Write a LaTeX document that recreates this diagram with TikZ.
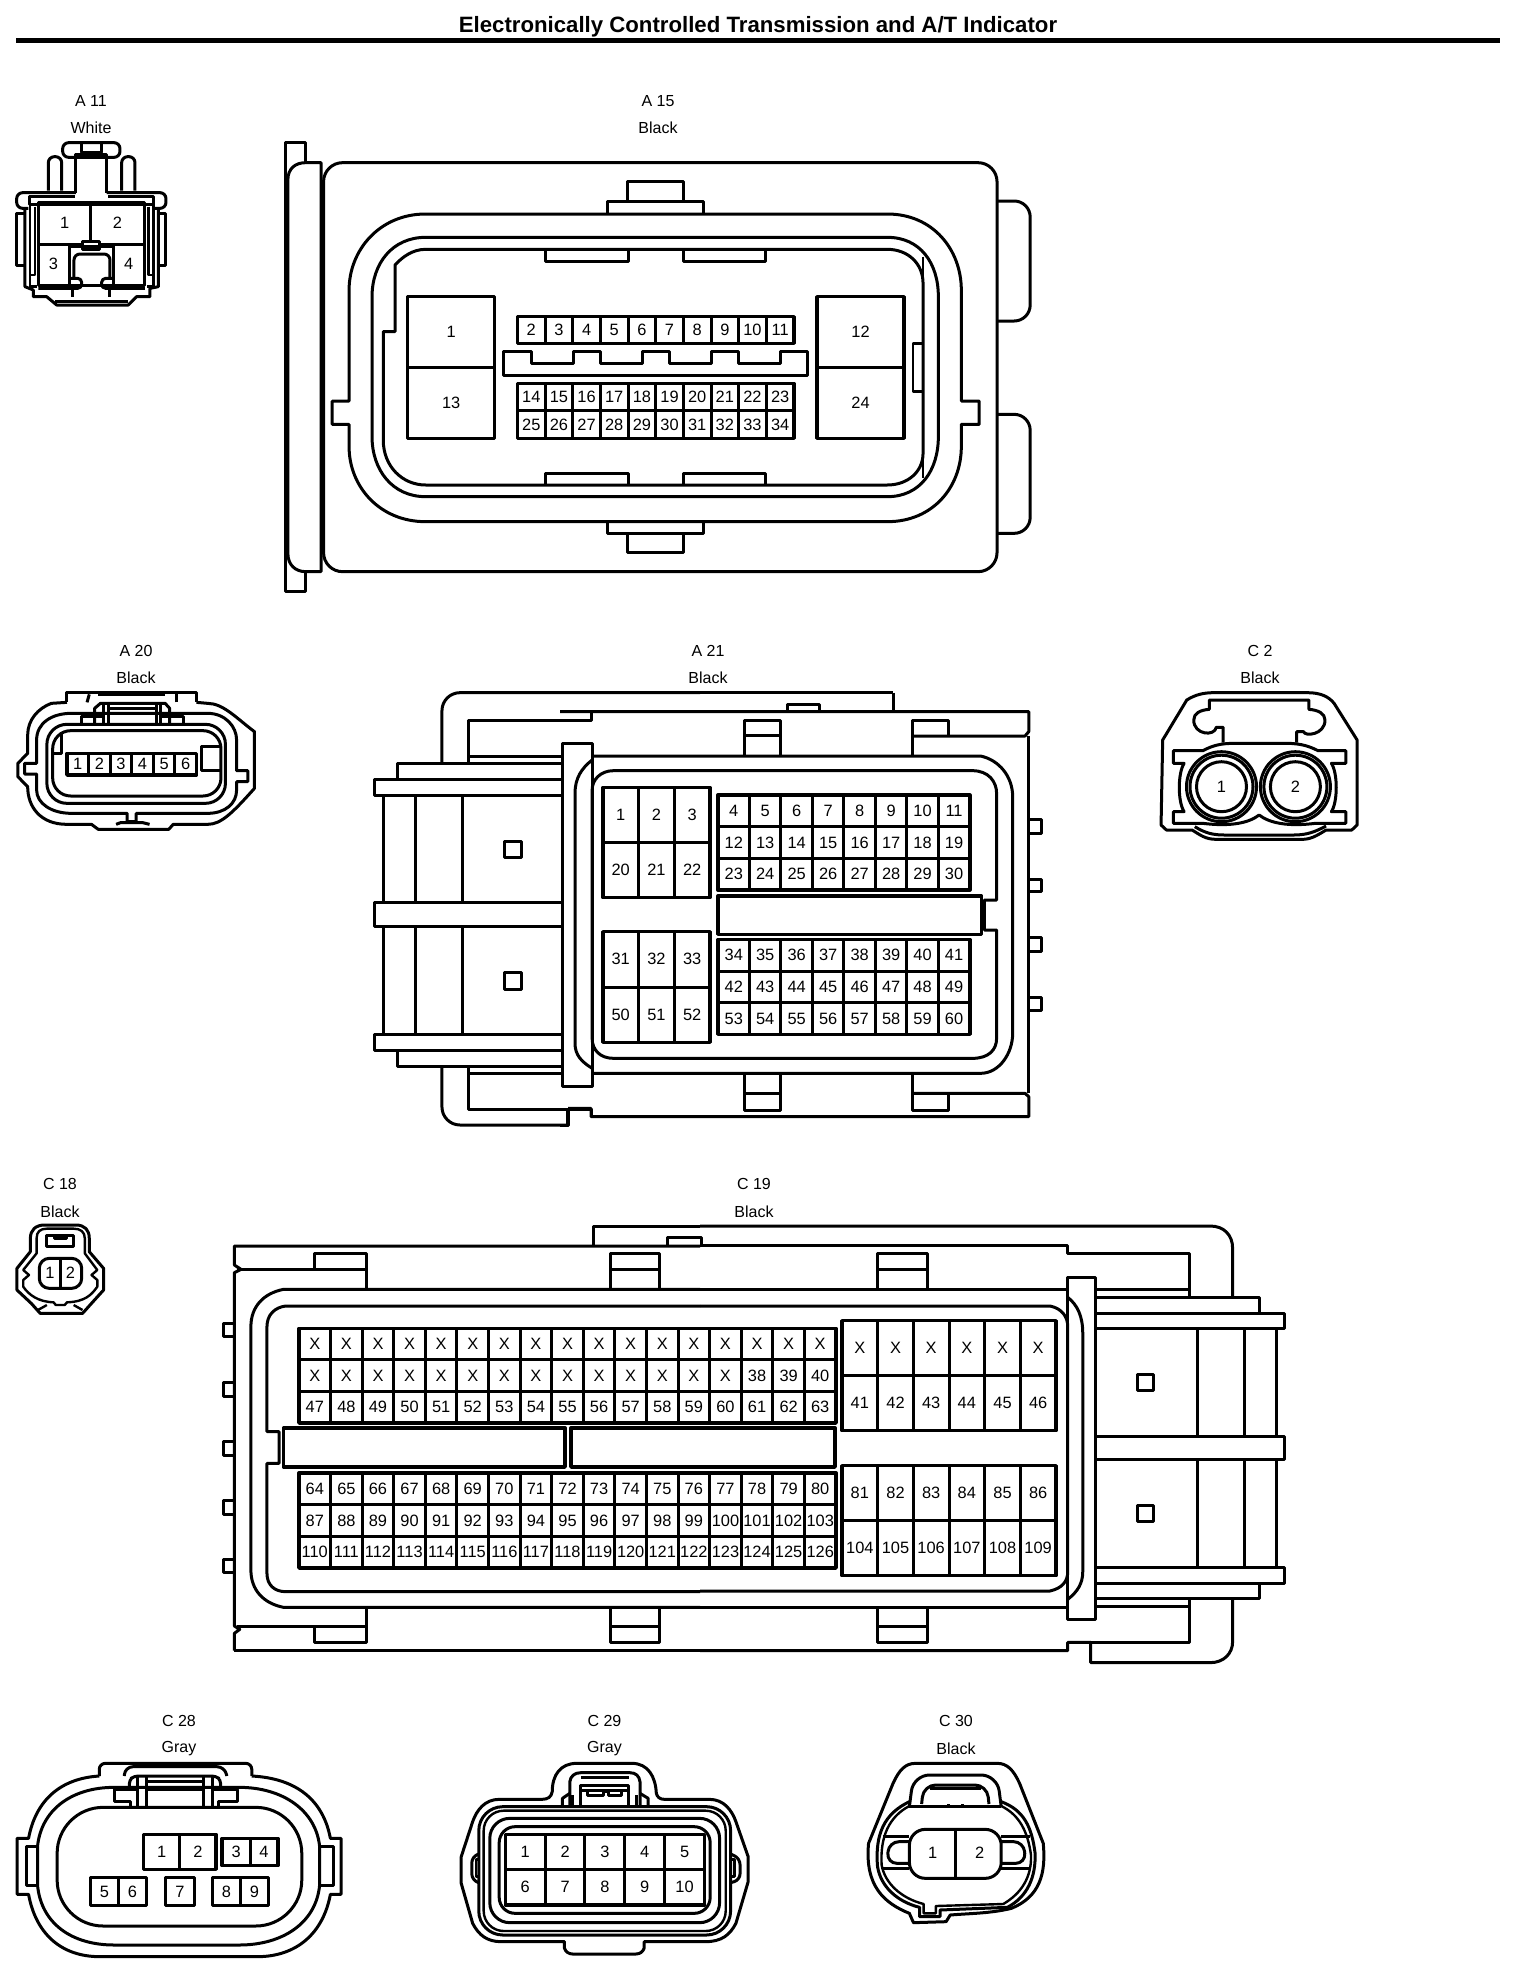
\documentclass[tikz,border=0pt]{standalone}
\usepackage{fontspec}
\setmainfont{Liberation Sans}
\newcounter{pg}
\tikzset{
 hv/.style={line width=1.7pt},
 tn/.style={line width=1.2pt},
 pinlab/.style={inner sep=0pt,font=\fontsize{8.2}{9}\selectfont},
 caplab/.style={inner sep=0pt,font=\fontsize{8}{9}\selectfont},
 zA/.style={xscale=0.33333,yscale=0.33333},
 zB/.style={shift={(270,120)},xscale=0.5102,yscale=0.33333},
 zC/.style={shift={(0,640)},xscale=0.44643,yscale=0.33333},
 zD/.style={shift={(560,680)},xscale=0.53571,yscale=0.33333},
 zE/.style={shift={(0,1170)},xscale=0.44643,yscale=0.33333},
 zF/.style={shift={(700,1210)},xscale=0.39541,yscale=0.33333},
 zG/.style={shift={(0,1700)},xscale=0.35714,yscale=0.33333},
 zH/.style={shift={(440,1700)},xscale=0.40816,yscale=0.33333},
}
% x1,y1,x2,y2,cols,rows,labels
\newcommand{\pingrid}[7]{%
 \stepcounter{pg}%
 \draw[hv] (#1,#2) rectangle (#3,#4);
 \foreach \pgi in {1,...,#5}{\pgfmathsetmacro\pgx{#1+\pgi*(#3-#1)/#5}\ifnum\pgi<#5 \draw (\pgx,#2) -- (\pgx,#4);\fi}
 \foreach \pgi in {1,...,#6}{\pgfmathsetmacro\pgy{#2+\pgi*(#4-#2)/#6}\ifnum\pgi<#6 \draw (#1,\pgy) -- (#3,\pgy);\fi}
 \foreach \lab [count=\k from 0] in {#7}{%
  \pgfmathtruncatemacro\pgc{mod(\k,#5)}%
  \pgfmathtruncatemacro\pgr{int(\k/#5)}%
  \pgfmathsetmacro\pgx{#1+(\pgc+.5)*(#3-#1)/#5}%
  \pgfmathsetmacro\pgy{#2+(\pgr+.5)*(#4-#2)/#6}%
  \node[pinlab] (g\arabic{pg}n\k) at (\pgx,\pgy) {\lab};}
}
\begin{document}
\begin{tikzpicture}[x=0.5pt,y=-0.5pt,line width=1.5pt,line join=round]
\useasboundingbox (0,0) rectangle (1536,1982);
\fill[white] (0,0) rectangle (1536,1982);
% header
\node[inner sep=0pt,font=\fontsize{11.1}{13}\bfseries\selectfont] (title) at (758,27) {Electronically Controlled Transmission and A/T Indicator};
\draw[line width=2.5pt] (16,40.5) -- (1500,40.5);
% captions
\node[caplab] (ca11) at (91,101) {A 11}; \node[caplab] (cb11) at (91,128) {White};
\node[caplab] (ca15) at (658,101) {A 15}; \node[caplab] (cb15) at (658,128) {Black};
\node[caplab] (ca20) at (136,651) {A 20}; \node[caplab] (cb20) at (136,678) {Black};
\node[caplab] (ca21) at (708,651) {A 21}; \node[caplab] (cb21) at (708,678) {Black};
\node[caplab] (cac2) at (1260,651) {C 2}; \node[caplab] (cbc2) at (1260,678) {Black};
\node[caplab] (ca18) at (60,1184) {C 18}; \node[caplab] (cb18) at (60,1212) {Black};
\node[caplab] (ca19) at (754,1184) {C 19}; \node[caplab] (cb19) at (754,1212) {Black};
\node[caplab] (ca28) at (179,1721) {C 28}; \node[caplab] (cb28) at (179,1749) {Gray};
\node[caplab] (ca29) at (604.5,1721) {C 29}; \node[caplab] (cb29) at (604.5,1749) {Gray};
\node[caplab] (ca30) at (956,1721) {C 30}; \node[caplab] (cb30) at (956,1749) {Black};

% ---------- A11
\begin{scope}[zA]
\draw[rounded corners=3pt] (188,428) rectangle (360,472);
\draw (245,428) rectangle (305,458);
\draw (228,578) -- (228,462) -- (320,462) -- (320,578);
\draw[rounded corners=3pt] (145,572) -- (145,470) -- (185,470) -- (185,572);
\draw[rounded corners=3pt] (365,572) -- (365,470) -- (405,470) -- (405,572);
\draw[rounded corners=3pt] (228,578) -- (50,578) -- (50,625) -- (85,625);
\draw[rounded corners=3pt] (320,578) -- (498,578) -- (498,625) -- (465,625);
\draw (225,590) -- (88,590) -- (88,612) -- (462,612) -- (462,590) -- (325,590);
\draw (75,640) -- (50,640) -- (50,795) -- (75,795);
\draw (475,640) -- (498,640) -- (498,795) -- (475,795);
\draw (75,625) -- (75,860) -- (100,870) -- (100,890) -- (140,890) -- (170,915) -- (385,915) -- (410,890) -- (450,890) -- (450,865) -- (475,860) -- (475,625);
\draw[tn] (90,612) -- (90,860) -- (110,860);
\draw[tn] (460,612) -- (460,860) -- (440,860);
\draw[tn] (105,620) -- (105,825) -- (90,825);
\draw[tn] (445,620) -- (445,825) -- (460,825);
\draw (115,608) rectangle (435,855);
\draw (272,608) -- (272,730);
\draw (115,733) -- (250,733); \draw (300,733) -- (435,733);
\draw (248,725) rectangle (300,748);
\draw (210,740) -- (340,740);
\draw (210,733) -- (210,855); \draw (340,733) -- (340,855);
\draw[rounded corners=3pt] (222,835) -- (222,762) -- (330,762) -- (330,835);
\draw[rounded corners=2pt] (210,835) -- (245,835) -- (245,865) -- (115,865);
\draw[rounded corners=2pt] (340,835) -- (305,835) -- (305,865) -- (435,865);
\draw (218,865) -- (218,890); \draw (328,865) -- (328,890);
\draw (165,905) -- (385,905);
\node[pinlab] (a11n1) at (194,668) {1};
\node[pinlab] (a11n2) at (352,668) {2};
\node[pinlab] (a11n3) at (160,793) {3};
\node[pinlab] (a11n4) at (386,793) {4};
\end{scope}

% ---------- A15
\begin{scope}[zB]
\draw (70,128) -- (70,68) -- (30,68) -- (30,1415) -- (70,1415) -- (70,1355);
\draw (100,128) -- (70,128) .. controls (50,128) and (35,145) .. (35,180) -- (35,1300) .. controls (35,1335) and (50,1355) .. (70,1355) -- (100,1355) -- cycle;
\draw[rounded corners=9.5pt] (105,128) rectangle (1425,1355);
\draw[rounded corners=8pt] (1425,243) -- (1490,243) -- (1490,603) -- (1425,603);
\draw[rounded corners=8pt] (1425,883) -- (1490,883) -- (1490,1240) -- (1425,1240);
\draw (700,243) -- (700,185) -- (810,185) -- (810,243);
\draw (662,282) -- (662,243) -- (850,243) -- (850,282);
\draw (662,1205) -- (662,1240) -- (850,1240) -- (850,1205);
\draw (700,1240) -- (700,1298) -- (810,1298) -- (810,1240);
\draw (305,282) -- (1210,282) .. controls (1300,282) and (1355,390) .. (1355,510) -- (1355,843) -- (1390,843) -- (1390,913) -- (1355,913) -- (1355,980) .. controls (1355,1100) and (1300,1205) .. (1210,1205) -- (305,1205) .. controls (215,1205) and (155,1100) .. (155,980) -- (155,913) -- (122,913) -- (122,843) -- (155,843) -- (155,510) .. controls (155,390) and (215,282) .. (305,282) -- cycle;
\draw (305,352) -- (1210,352) .. controls (1275,352) and (1310,430) .. (1310,530) -- (1310,950) .. controls (1310,1050) and (1275,1130) .. (1210,1130) -- (305,1130) .. controls (240,1130) and (200,1050) .. (200,950) -- (200,530) .. controls (200,430) and (240,352) .. (305,352) -- cycle;
\draw (305,388) -- (1210,388) .. controls (1250,388) and (1280,430) .. (1280,490) -- (1280,1000) .. controls (1280,1055) and (1250,1095) .. (1210,1095) -- (305,1095) .. controls (260,1095) and (222,1040) .. (222,960) -- (222,635) -- (245,635) -- (245,435) .. controls (260,410) and (280,388) .. (305,388) -- cycle;
\draw[tn] (1280,410) -- (1280,1075);
\draw[tn] (1260,670) rectangle (1280,815);
\draw (540,388) -- (540,425) -- (703,425) -- (703,388);
\draw (810,388) -- (810,425) -- (972,425) -- (972,388);
\draw (540,1095) -- (540,1060) -- (703,1060) -- (703,1095);
\draw (810,1095) -- (810,1060) -- (972,1060) -- (972,1095);
\pingrid{270}{530}{440}{955}{1}{2}{1,13}
\pingrid{1072}{530}{1243}{955}{1}{2}{12,24}
\pingrid{485}{590}{1027}{670}{10}{1}{2,3,4,5,6,7,8,9,10,11}
\pingrid{485}{790}{1027}{955}{10}{2}{14,15,16,17,18,19,20,21,22,23,25,26,27,28,29,30,31,32,33,34}
\draw (458,693) -- (513,693) -- (513,730) -- (595,730) -- (595,693) -- (648,693) -- (648,730) -- (730,730) -- (730,693) -- (783,693) -- (783,730) -- (865,730) -- (865,693) -- (918,693) -- (918,730) -- (1000,730) -- (1000,693) -- (1053,693) -- (1053,767) -- (458,767) -- cycle;
\end{scope}

% ---------- A20
\begin{scope}[zC]
\draw (150,187) -- (150,158) -- (440,158) -- (440,187);
\draw[hv] (220,163) -- (370,163);
\draw (195,187) -- (200,163); \draw (395,187) -- (395,163);
\draw (150,187) -- (115,190) .. controls (85,205) and (62,240) .. (62,285) -- (62,340) -- (40,370) -- (40,410) -- (62,440) .. controls (62,500) and (90,553) .. (150,553) -- (205,553) -- (220,568) -- (378,568) -- (388,553) -- (465,553) .. controls (495,553) and (520,520) .. (570,445) -- (570,275) .. controls (530,235) and (500,190) .. (465,190) -- (440,187);
\draw (260,553) -- (270,548) -- (320,548) -- (335,553);
\draw (82,370) -- (82,300) .. controls (82,250) and (115,220) .. (160,220) -- (465,220) .. controls (505,220) and (530,260) .. (530,300) -- (530,392) -- (555,392) -- (555,425) -- (530,425) -- (530,450) .. controls (530,490) and (505,520) .. (465,520) -- (305,520) -- (305,545) -- (285,545) -- (285,520) -- (160,520) .. controls (115,520) and (82,490) .. (82,450) -- (82,402) -- (55,402) -- (55,370) -- cycle;
\draw[rounded corners=10pt] (105,253) rectangle (505,490);
\draw[rounded corners=9pt] (118,272) rectangle (495,468);
\draw (118,340) -- (138,340) -- (138,278);
\pingrid{150}{340}{440}{405}{6}{1}{1,2,3,4,5,6}
\draw (495,318) -- (452,318) -- (452,390) -- (495,390);
\draw (212,250) -- (212,205) -- (225,190) -- (370,190) -- (380,205) -- (380,250);
\draw (240,205) -- (352,205);
\draw (232,195) -- (232,250); \draw (242,195) -- (242,250);
\draw (350,195) -- (350,250); \draw (360,195) -- (360,250);
\draw (183,250) -- (183,228) -- (235,228);
\draw (410,250) -- (410,228) -- (360,228);
\end{scope}

% ---------- A21 left
\begin{scope}[zC]
\draw[rounded corners=9pt] (990,368) -- (990,158) -- (1568,158);
\draw (1050,368) -- (1050,240) -- (1325,240) -- (1325,215) -- (1568,215);
\draw (1050,348) -- (1262,348);
\draw (890,415) -- (890,370) -- (1262,370);
\draw (1262,418) -- (838,418) -- (838,465) -- (1262,465);
\draw (858,465) -- (858,788);
\draw (930,465) -- (930,788);
\draw (1035,465) -- (1035,788);
\draw (1262,788) -- (838,788) -- (838,860) -- (1262,860);
\draw (858,860) -- (858,1182);
\draw (930,860) -- (930,1182);
\draw (1035,860) -- (1035,1182);
\draw (1262,1182) -- (838,1182) -- (838,1232) -- (1262,1232);
\draw (890,1235) -- (890,1280) -- (1262,1280);
\draw (1050,1300) -- (1262,1300);
\draw (1050,1280) -- (1050,1408) -- (1272,1408);
\draw[rounded corners=9pt] (990,1280) -- (990,1455) -- (1272,1455);
\draw (1272,1455) -- (1272,1408) -- (1325,1408) -- (1325,1430) -- (1568,1430);
\draw (1130,603) rectangle (1168,653);
\draw (1130,997) rectangle (1168,1047);
\end{scope}
% ---------- A21 right
\begin{scope}[zD]
\draw (622,38) -- (622,95);
\draw (0,38) -- (622,38);
\draw (0,95) -- (875,95) -- (875,155) -- (868,168) -- (658,168);
\draw (425,95) -- (425,72) -- (485,72) -- (485,95);
\draw (345,225) -- (345,120) -- (412,120) -- (412,225);
\draw (345,165) -- (412,165);
\draw (658,225) -- (658,120) -- (725,120) -- (725,168);
\draw (875,168) -- (875,1240);
\draw (345,1180) -- (345,1290) -- (412,1290) -- (412,1180);
\draw (345,1240) -- (412,1240);
\draw (658,1180) -- (658,1290) -- (725,1290) -- (725,1240);
\draw (658,1240) -- (868,1240) -- (875,1250) -- (875,1310) -- (58,1310) -- (58,1285) -- (15,1285);
\draw (0,1335) -- (15,1335) -- (15,1285);
\foreach \py/\qy in {418/460,598/635,772/815,952/990}{\draw (875,\py) -- (898,\py) -- (898,\qy) -- (875,\qy);}
\draw (60,228) -- (785,228) .. controls (820,240) and (845,290) .. (845,350) -- (845,1060) .. controls (845,1120) and (820,1180) .. (785,1180) -- (60,1180);
\draw (60,240) .. controls (40,265) and (28,295) .. (28,340) -- (28,1090) .. controls (28,1125) and (40,1145) .. (60,1165);
\draw (100,272) -- (770,272) .. controls (800,272) and (815,305) .. (815,340) -- (815,660) -- (792,660) -- (792,750) -- (815,750) -- (815,1075) .. controls (815,1110) and (800,1135) .. (770,1135) -- (100,1135) .. controls (75,1135) and (60,1110) .. (60,1075) -- (60,330) .. controls (60,300) and (75,272) .. (100,272) -- cycle;
\draw (5,190) rectangle (60,1218);
\pingrid{80}{322}{280}{653}{3}{2}{1,2,3,20,21,22}
\pingrid{80}{755}{280}{1087}{3}{2}{31,32,33,50,51,52}
\pingrid{295}{345}{765}{630}{8}{3}{4,5,6,7,8,9,10,11,12,13,14,15,16,17,18,19,23,24,25,26,27,28,29,30}
\pingrid{295}{778}{765}{1063}{8}{3}{34,35,36,37,38,39,40,41,42,43,44,45,46,47,48,49,53,54,55,56,57,58,59,60}
\draw[hv] (295,648) rectangle (787,763);
% ---------- C2
\draw (1125,180) -- (1170,60) .. controls (1185,45) and (1200,38) .. (1220,38) -- (1395,38) .. controls (1420,38) and (1435,50) .. (1445,70) -- (1488,180) -- (1488,435) -- (1478,450) -- (1430,450) .. controls (1410,470) and (1400,478) .. (1385,478) -- (1225,478) .. controls (1205,478) and (1195,465) .. (1180,450) -- (1132,450) -- (1122,435) -- cycle;
\draw (1238,188) -- (1238,142) -- (1225,142) .. controls (1222,170) and (1183,165) .. (1183,120) .. controls (1183,100) and (1195,90) .. (1212,88) -- (1212,60) -- (1398,60) -- (1398,88) .. controls (1415,90) and (1428,100) .. (1428,120) .. controls (1428,165) and (1390,170) .. (1388,155) -- (1375,155) -- (1375,188);
\draw (1145,212) -- (1200,212) .. controls (1220,195) and (1235,190) .. (1260,190) -- (1355,190) .. controls (1385,190) and (1400,200) .. (1415,212) -- (1467,212) -- (1467,250) -- (1440,250) .. controls (1452,280) and (1452,365) .. (1440,395) -- (1467,395) -- (1467,430) -- (1410,430) .. controls (1360,440) and (1325,430) .. (1305,405) .. controls (1285,430) and (1250,440) .. (1200,430) -- (1145,430) -- (1145,395) -- (1165,395) .. controls (1153,365) and (1153,280) .. (1165,250) -- (1145,250) -- cycle;
\draw (1185,440) .. controls (1205,460) and (1220,465) .. (1240,465) -- (1370,465) .. controls (1395,465) and (1410,455) .. (1430,438);
\end{scope}
\foreach \cx/\nm in {1221.5/1,1295.4/2}{
 \fill[white] (\cx,786.7) circle[radius=35];
 \draw (\cx,786.7) circle[radius=35];
 \draw (\cx,786.7) circle[radius=31.5];
 \draw (\cx,786.7) circle[radius=25];
 \node[pinlab] (cc\nm) at (\cx,786.7) {\nm};
}

% ---------- C18
\begin{scope}[zE]
\draw (68,245) -- (68,205) .. controls (68,180) and (80,165) .. (100,165) -- (170,165) .. controls (190,165) and (200,180) .. (200,205) -- (200,245) -- (232,295) -- (232,360) -- (205,400) -- (185,430) -- (90,430) -- (70,400) -- (38,360) -- (38,295) -- cycle;
\draw[tn] (82,250) -- (82,205) .. controls (82,185) and (90,176) .. (105,176) -- (165,176) .. controls (180,176) and (190,185) .. (190,205) -- (190,250) -- (218,300) -- (205,315) -- (218,330) -- (218,350) .. controls (205,375) and (190,395) .. (150,397) -- (145,405) -- (125,405) -- (120,397) .. controls (85,395) and (65,375) .. (52,350) -- (52,330) -- (65,315) -- (52,300) -- cycle;
\draw (105,195) rectangle (165,228);
\draw (122,195) -- (122,206) -- (148,206) -- (148,195);
\draw[rounded corners=5pt] (88,265) rectangle (183,355);
\draw (135,265) -- (135,355);
\draw[tn] (85,420) -- (105,405); \draw[tn] (165,405) -- (185,420);
\node[pinlab] (c18n1) at (112,308) {1};
\node[pinlab] (c18n2) at (158,308) {2};
\end{scope}

% ---------- C19 left
\begin{scope}[zE]
\draw (1330,228) -- (1330,168) -- (1568,168);
\draw (525,1442) -- (525,1390) -- (537,1378) -- (525,1368) -- (525,308) -- (540,298) -- (525,285) -- (525,228) -- (1568,228);
\draw (525,1442) -- (1568,1442);
\draw (530,298) -- (820,298);
\draw (530,1370) -- (820,1370);
\draw (705,298) -- (705,250) -- (820,250) -- (820,355);
\draw (1368,355) -- (1368,250) -- (1478,250) -- (1478,355);
\draw (1368,298) -- (1478,298);
\draw (820,1315) -- (820,1418) -- (705,1418) -- (705,1372);
\draw (1368,1315) -- (1368,1418) -- (1478,1418) -- (1478,1315);
\draw (1368,1370) -- (1478,1370);
\draw (1495,228) -- (1495,203) -- (1572,203) -- (1572,228);
\draw (1568,358) -- (635,358) .. controls (590,370) and (562,410) .. (562,470) -- (562,1200) .. controls (562,1260) and (590,1300) .. (635,1312) -- (1568,1312);
\draw (1568,408) -- (640,408) .. controls (615,412) and (598,435) .. (598,470) -- (598,785) -- (625,785) -- (625,880) -- (598,880) -- (598,1210) .. controls (598,1245) and (615,1265) .. (640,1265) -- (1568,1265);
\foreach \py/\qy in {460/500,637/678,815/855,990/1032,1167/1208}{\draw (525,\py) -- (500,\py) -- (500,\qy) -- (525,\qy);}
\end{scope}
% ---------- C19 grids (pixels)
\pingrid{299}{1328.3}{836}{1423}{17}{3}{X,X,X,X,X,X,X,X,X,X,X,X,X,X,X,X,X,X,X,X,X,X,X,X,X,X,X,X,X,X,X,38,39,40,47,48,49,50,51,52,53,54,55,56,57,58,59,60,61,62,63}
\pingrid{299}{1473}{836}{1568}{17}{3}{64,65,66,67,68,69,70,71,72,73,74,75,76,77,78,79,80,87,88,89,90,91,92,93,94,95,96,97,98,99,100,101,102,103,110,111,112,113,114,115,116,117,118,119,120,121,122,123,124,125,126}
\pingrid{842}{1320.7}{1056}{1430.7}{6}{2}{X,X,X,X,X,X,41,42,43,44,45,46}
\pingrid{842}{1465.7}{1056}{1575.7}{6}{2}{81,82,83,84,85,86,104,105,106,107,108,109}
\draw[hv] (283.5,1428) rectangle (565,1467);
\draw[hv] (571,1428) rectangle (835,1467);
% ---------- C19 right
\begin{scope}[zF]
\draw (0,105) -- (930,105) -- (930,130) -- (1238,130) -- (1238,260);
\draw (1003,238) -- (1238,238);
\draw (0,48) -- (1290,48) .. controls (1325,48) and (1347,75) .. (1347,115) -- (1347,258);
\draw (450,238) -- (450,130) -- (575,130) -- (575,238);
\draw (450,177) -- (575,177);
\draw (0,238) -- (930,238);
\draw (930,203) rectangle (1000,1228);
\draw (0,288) -- (885,288) .. controls (915,295) and (930,320) .. (930,350) -- (930,1085) .. controls (930,1115) and (915,1135) .. (885,1143) -- (0,1143);
\draw (930,262) .. controls (955,285) and (968,320) .. (968,370) -- (968,1085) .. controls (968,1120) and (955,1145) .. (930,1168);
\draw (0,1192) -- (930,1192);
\draw (450,1192) -- (450,1297) -- (575,1297) -- (575,1192);
\draw (450,1250) -- (575,1250);
\draw (0,1322) -- (930,1322) -- (930,1297) -- (988,1297) -- (988,1358) -- (1290,1358) .. controls (1325,1358) and (1347,1330) .. (1347,1295) -- (1347,1168);
\draw (988,1297) -- (1238,1297) -- (1238,1170);
\draw (1003,1190) -- (1238,1190);
\draw (1003,262) -- (1415,262) -- (1415,310);
\draw (1003,310) -- (1478,310) -- (1478,355) -- (1003,355);
\draw (1258,355) -- (1258,680); \draw (1378,355) -- (1378,680); \draw (1458,355) -- (1458,680);
\draw (1003,680) -- (1478,680) -- (1478,748) -- (1003,748);
\draw (1258,748) -- (1258,1072); \draw (1378,748) -- (1378,1072); \draw (1458,748) -- (1458,1072);
\draw (1003,1072) -- (1478,1072) -- (1478,1120) -- (1003,1120);
\draw (1003,1165) -- (1415,1165) -- (1415,1120);
\draw (1107,492) rectangle (1148,542);
\draw (1107,885) rectangle (1148,935);
\end{scope}

% ---------- C28
\begin{scope}[zG]
\draw[rounded corners=3pt] (278,228) -- (278,190) -- (705,190) -- (705,228);
\draw[rounded corners=4pt] (348,228) -- (350,200) -- (630,200) -- (635,228);
\draw (278,228) .. controls (170,235) and (100,300) .. (80,415) -- (48,415) -- (48,583) -- (80,583) .. controls (100,700) and (170,770) .. (280,770) -- (720,770) .. controls (830,770) and (905,700) .. (925,583) -- (955,583) -- (955,415) -- (925,415) .. controls (905,300) and (830,235) .. (705,228);
\draw (105,440) .. controls (115,330) and (200,262) .. (320,262) -- (670,262) .. controls (790,262) and (885,330) .. (895,440) -- (895,555) .. controls (885,670) and (790,735) .. (670,735) -- (320,735) .. controls (200,735) and (115,670) .. (105,555) -- cycle;
\draw (105,440) -- (75,440) -- (75,555) -- (105,555);
\draw (895,440) -- (935,440) -- (935,555) -- (895,555);
\draw[rounded corners=23pt] (160,322) rectangle (845,678);
\draw[rounded corners=2pt] (362,262) -- (362,240) -- (375,228) -- (605,228) -- (618,240) -- (618,262);
\draw (385,232) -- (385,320); \draw (410,232) -- (410,320);
\draw (570,232) -- (570,320); \draw (595,232) -- (595,320);
\draw (410,245) -- (570,245); \draw (410,268) -- (570,268);
\draw (385,268) -- (320,268) -- (320,305) -- (365,305) -- (365,320);
\draw (595,268) -- (665,268) -- (665,305) -- (612,305) -- (612,320);
\pingrid{402}{403}{605}{508}{2}{1}{1,2}
\pingrid{622}{415}{778}{497}{2}{1}{3,4}
\pingrid{253}{532}{410}{617}{2}{1}{5,6}
\pingrid{463}{532}{545}{617}{1}{1}{7}
\pingrid{595}{532}{752}{617}{2}{1}{8,9}
\end{scope}

% ---------- C29
\begin{scope}[zH]
\draw (275,275) .. controls (275,225) and (295,190) .. (335,190) -- (470,190) .. controls (510,190) and (528,230) .. (530,280) .. controls (532,292) and (540,298) .. (550,298) -- (660,298) .. controls (695,298) and (715,330) .. (725,365) -- (755,470) -- (755,545) -- (725,670) .. controls (710,705) and (690,725) .. (650,725) -- (500,725) -- (500,745) .. controls (497,755) and (490,762) .. (480,762) -- (325,762) .. controls (315,762) and (308,755) .. (305,745) -- (305,725) -- (150,725) .. controls (115,725) and (95,705) .. (80,670) -- (52,550) -- (52,470) -- (80,365) .. controls (90,330) and (110,298) .. (145,298) -- (250,298) .. controls (265,298) and (273,290) .. (275,275) -- cycle;
\draw[rounded corners=12pt] (95,320) rectangle (712,705);
\draw[tn,rounded corners=10pt] (107,332) rectangle (700,693);
\draw[rounded corners=10pt] (122,355) rectangle (685,668);
\draw[rounded corners=8pt] (145,380) rectangle (662,640);
\pingrid{160}{403}{648}{615}{5}{2}{1,2,3,4,5,6,7,8,9,10}
\draw (318,318) -- (318,245) .. controls (320,228) and (330,218) .. (345,218) -- (465,218) .. controls (480,218) and (488,228) .. (490,245) -- (490,318);
\draw (345,318) -- (345,255) -- (462,255) -- (462,318);
\draw (345,232) -- (462,232);
\draw (362,270) -- (362,285) -- (400,285) -- (400,275) -- (412,275) -- (412,285) -- (445,285) -- (445,270);
\draw (345,270) -- (462,270);
\draw (300,318) -- (300,295) -- (318,280);
\draw (325,318) -- (325,285); 
\draw (510,318) -- (510,295) -- (490,280);
\draw (482,318) -- (482,285);
\draw[rounded corners=3pt] (95,462) -- (78,470) -- (78,540) -- (95,548);
\draw[tn] (95,478) -- (88,478) -- (88,530) -- (95,530);
\draw[rounded corners=3pt] (712,462) -- (735,475) -- (735,540) -- (712,548);
\draw[tn] (712,478) -- (722,478) -- (722,530) -- (712,530);
% ---------- C30
\draw (1165,190) -- (1365,190) .. controls (1390,190) and (1405,210) .. (1420,250) -- (1478,430) .. controls (1485,520) and (1470,590) .. (1400,625) .. controls (1350,640) and (1300,640) .. (1250,645) -- (1240,665) -- (1160,668) -- (1150,640) .. controls (1090,610) and (1040,560) .. (1050,430) -- (1110,250) .. controls (1125,210) and (1140,190) .. (1165,190) -- cycle;
\draw (1150,305) .. controls (1090,340) and (1065,400) .. (1072,500) .. controls (1080,560) and (1120,605) .. (1175,622) -- (1175,650) -- (1225,650) -- (1225,630) -- (1390,622) .. controls (1440,590) and (1460,530) .. (1458,460) .. controls (1450,380) and (1430,330) .. (1375,305);
\draw[tn] (1150,318) .. controls (1100,350) and (1078,410) .. (1082,495) .. controls (1090,550) and (1130,595) .. (1185,612) -- (1185,640) -- (1215,640) -- (1215,618) -- (1380,612) .. controls (1425,580) and (1450,530) .. (1448,465) .. controls (1440,395) and (1420,345) .. (1375,318);
\draw[rounded corners=8pt] (1150,320) -- (1160,225) -- (1365,225) -- (1375,320);
\draw[rounded corners=6pt] (1180,312) -- (1185,255) -- (1340,255) -- (1345,312);
\draw (1200,265) -- (1325,265);
\draw (1150,320) -- (1375,320);
\draw (1245,312) -- (1245,320) -- (1280,320) -- (1280,312);
\draw[rounded corners=8pt,fill=white] (1150,388) rectangle (1375,535);
\draw (1262,388) -- (1262,535);
\draw[rounded corners=5pt] (1150,425) -- (1100,425) -- (1095,490) -- (1150,490);
\draw[rounded corners=5pt] (1375,425) -- (1430,425) -- (1435,490) -- (1375,490);
\draw (1085,410) -- (1150,410); \draw (1085,505) -- (1150,505);
\draw (1375,410) -- (1445,410); \draw (1375,505) -- (1445,505);
\node[pinlab] (c30n1) at (1207,458) {1};
\node[pinlab] (c30n2) at (1322,458) {2};
\end{scope}
\end{tikzpicture}
\end{document}
